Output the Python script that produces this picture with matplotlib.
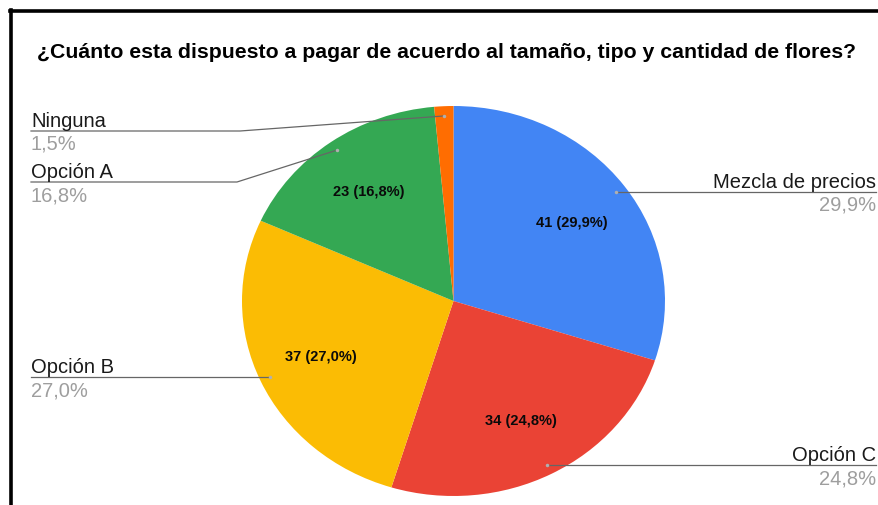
import numpy as np
import matplotlib.pyplot as plt
from matplotlib.lines import Line2D

plt.rcParams['font.family'] = ['Liberation Sans', 'DejaVu Sans']

titulo = "¿Cuánto esta dispuesto a pagar de acuerdo al tamaño, tipo y cantidad de flores?"
categorias = ["Mezcla de precios", "Opción C", "Opción B", "Opción A", "Ninguna"]
respuestas = [41, 34, 37, 23, 2]
colores = ["#4285F4", "#EA4335", "#FBBC04", "#34A853", "#FF6D01"]

W, H = 879, 506
fig = plt.figure(figsize=(W / 100, H / 100), dpi=100)


def fx(x):
    return x / W


def fy(y):
    return 1 - y / H


# marco negro (solo arriba e izquierda)
fig.add_artist(Line2D([fx(11), fx(11)], [fy(11), fy(H)], color="black", lw=2.6,
                      transform=fig.transFigure))
fig.add_artist(Line2D([fx(10), fx(W)], [fy(12), fy(12)], color="black", lw=2.6,
                      transform=fig.transFigure))

fig.text(fx(37), fy(52), titulo, fontsize=15.3, fontweight="bold", va="center", ha="left")

# la torta queda algo achatada, como en la hoja de cálculo
ax = fig.add_axes([fx(242), fy(497), (665 - 242) / W, (497 - 107) / H])
total = sum(respuestas)


def etiqueta(p):
    # las porciones muy chicas no llevan rótulo interno
    if p < 3:
        return ""
    n = int(round(p * total / 100))
    return f"{n} ({p:.1f}%)".replace(".", ",")


wedges, textos = ax.pie(respuestas, colors=colores, startangle=90, counterclock=False,
                        autopct=etiqueta, pctdistance=0.69, radius=1,
                        textprops=dict(fontsize=10.5, fontweight="bold", color="#0a0a0a"))[:2]
ax.set_aspect("auto")
ax.set_xlim(-1, 1)
ax.set_ylim(-1, 1)
ax.axis("off")

# posiciones de las etiquetas externas (pixeles): codo, extremo de la línea, alineación
guias = {
    "Mezcla de precios": (None, 876, "right"),
    "Opción C": (None, 876, "right"),
    "Opción B": (None, 31, "left"),
    "Opción A": ((237, 183), 31, "left"),
    "Ninguna": ((240, 132), 31, "left"),
}

inv = fig.transFigure.inverted()

for w, cat, val in zip(wedges, categorias, respuestas):
    ang = np.deg2rad((w.theta1 + w.theta2) / 2)
    px, py = inv.transform(ax.transData.transform((0.95 * np.cos(ang), 0.95 * np.sin(ang))))
    codo, xfin, ha = guias[cat]
    if codo is None:
        xs = [px, fx(xfin)]
        ys = [py, py]
        ylin = py
    else:
        xs = [px, fx(codo[0]), fx(xfin)]
        ys = [py, fy(codo[1]), fy(codo[1])]
        ylin = fy(codo[1])
    fig.add_artist(Line2D(xs, ys, color="#666666", lw=0.9, transform=fig.transFigure))
    fig.add_artist(Line2D([px], [py], marker="o", ms=2.5, color="#b0b0b0", mec="none",
                          transform=fig.transFigure))
    pct = f"{val / total * 100:.1f}%".replace(".", ",")
    fig.text(fx(xfin), ylin + 1 / H, cat, fontsize=14.5, color="#1a1a1a", ha=ha, va="bottom")
    fig.text(fx(xfin), ylin - 3 / H, pct, fontsize=14.5, color="#9e9e9e", ha=ha, va="top")

fig.savefig("out.png", dpi=100)
